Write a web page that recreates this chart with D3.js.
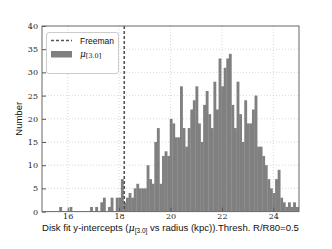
<!DOCTYPE html>
<html>
<head>
<meta charset="utf-8">
<script src="https://cdn.jsdelivr.net/npm/d3@7"></script>
<style>
  html, body { margin: 0; padding: 0; background: #fff; }
  svg { display: block; }
</style>
</head>
<body>
<svg id="chart"></svg>
<script>
// histogram of disk fit y-intercepts, bins of 0.1 starting at 15.67
const binStart = 15.67
const binWidth = 0.1
const counts = [
  1, 0, 0, 0, 1, 0, 0, 0, 0, 0,
  0, 0, 1, 0, 1, 0, 2, 3, 0, 1,
  3, 0, 3, 3, 7, 2, 3, 4, 3, 5,
  6, 5, 5, 5, 10, 7, 6, 15, 18, 6,
  12, 13, 12, 20, 19, 16, 16, 27, 18, 14,
  18, 22, 24, 27, 19, 15, 23, 26, 21, 18,
  28, 22, 33, 27, 31, 33, 34, 23, 18, 28,
  21, 15, 24, 19, 19, 22, 25, 14, 14, 12,
  10, 7, 5, 4, 7, 9, 3, 2, 1, 2,
  1, 2, 1, 1
]
const freeman = 18.2
const xTicks = [16, 18, 20, 22, 24]
const yTicks = [0, 5, 10, 15, 20, 25, 30, 35, 40]

const width = 332
const height = 249
const marginLeft = 42
const marginRight = 33
const marginTop = 26
const marginBottom = 37.4

const bins = counts.map((c, i) => ({x0: binStart + i * binWidth, x1: binStart + (i + 1) * binWidth, n: c}))

const x = d3.scaleLinear([15, 25], [marginLeft, width - marginRight])
const y = d3.scaleLinear([0, 40], [height - marginBottom, marginTop])

const svg = d3.select('#chart')
    .attr('width', width)
    .attr('height', height)
    .attr('viewBox', [0, 0, width, height])

svg.append('defs').append('clipPath').attr('id', 'plot')
  .append('rect')
    .attr('x', marginLeft).attr('y', marginTop)
    .attr('width', width - marginLeft - marginRight)
    .attr('height', height - marginTop - marginBottom)

// grid
const grid = svg.append('g').attr('stroke', '#c8c8c8').attr('stroke-width', 0.7).attr('stroke-dasharray', '1,2')
grid.selectAll('.gx').data(xTicks).join('line')
    .attr('x1', d => x(d)).attr('x2', d => x(d))
    .attr('y1', marginTop).attr('y2', height - marginBottom)
grid.selectAll('.gy').data(yTicks.slice(1, -1)).join('line')
    .attr('x1', marginLeft).attr('x2', width - marginRight)
    .attr('y1', d => y(d)).attr('y2', d => y(d))

// bars
svg.append('g')
    .attr('clip-path', 'url(#plot)')
    .attr('fill', '#808080')
  .selectAll('rect')
  .data(bins.filter(d => d.n > 0))
  .join('rect')
    .attr('x', d => x(d.x0))
    .attr('width', d => x(d.x1) - x(d.x0) + 0.3)
    .attr('y', d => y(d.n))
    .attr('height', d => y(0) - y(d.n))

// Freeman line
svg.append('line')
    .attr('x1', x(freeman)).attr('x2', x(freeman))
    .attr('y1', marginTop).attr('y2', height - marginBottom)
    .attr('stroke', '#555')
    .attr('stroke-width', 1.6)
    .attr('stroke-dasharray', '3,2')

// axes
const xAxis = d3.axisBottom(x).tickValues(xTicks).tickSize(-4).tickPadding(2)
const yAxis = d3.axisLeft(y).tickValues(yTicks).tickSize(-4).tickPadding(4)

svg.append('g')
    .attr('transform', `translate(0,${height - marginBottom})`)
    .call(xAxis)
    .call(g => g.select('.domain').remove())
    .call(g => g.selectAll('text').attr('font-family', 'DejaVu Serif').attr('font-size', 8).attr('fill', '#222'))
    .call(g => g.selectAll('.tick line').attr('stroke', '#555'))

svg.append('g')
    .attr('transform', `translate(${marginLeft},0)`)
    .call(yAxis)
    .call(g => g.select('.domain').remove())
    .call(g => g.selectAll('text').attr('font-family', 'DejaVu Serif').attr('font-size', 8).attr('fill', '#222'))
    .call(g => g.selectAll('.tick line').attr('stroke', '#555'))

// frame
svg.append('rect')
    .attr('x', marginLeft).attr('y', marginTop)
    .attr('width', width - marginLeft - marginRight)
    .attr('height', height - marginTop - marginBottom)
    .attr('fill', 'none')
    .attr('stroke', '#666')
    .attr('stroke-width', 1)

// labels
const xl = svg.append('text')
    .attr('x', (marginLeft + width - marginRight) / 2)
    .attr('y', 231)
    .attr('text-anchor', 'middle')
    .attr('font-family', 'Liberation Sans')
    .attr('font-size', 9)
    .attr('fill', '#111')
xl.append('tspan').text('Disk fit y-intercepts (')
xl.append('tspan').attr('font-style', 'italic').attr('font-family', 'DejaVu Serif').text('μ')
xl.append('tspan').attr('font-size', 6.5).attr('dy', 2).text('[3.0]')
xl.append('tspan').attr('dy', -2).text(' vs radius (kpc)).Thresh.  R/R80=0.5')
const w = xl.node().getComputedTextLength()
xl.attr('font-size', 9 * 258 / w)

svg.append('text')
    .attr('transform', `translate(22,${(marginTop + height - marginBottom) / 2}) rotate(-90)`)
    .attr('text-anchor', 'middle')
    .attr('font-family', 'Liberation Sans')
    .attr('font-size', 9.5)
    .attr('fill', '#111')
    .text('Number')

// legend
const lg = svg.append('g')
lg.append('rect')
    .attr('x', 46.5).attr('y', 32.5).attr('width', 72).attr('height', 41)
    .attr('rx', 2.5)
    .attr('fill', '#fff').attr('stroke', '#ccc')
lg.append('line')
    .attr('x1', 51).attr('x2', 72).attr('y1', 40.5).attr('y2', 40.5)
    .attr('stroke', '#555').attr('stroke-width', 1.6).attr('stroke-dasharray', '3,2')
lg.append('text')
    .attr('x', 80).attr('y', 43.5)
    .attr('font-family', 'Liberation Sans').attr('font-size', 8.5).attr('fill', '#111')
    .text('Freeman')
lg.append('rect')
    .attr('x', 51).attr('y', 51).attr('width', 21).attr('height', 6.5)
    .attr('fill', '#808080')
const lt = lg.append('text')
    .attr('x', 80).attr('y', 56.5)
    .attr('font-family', 'DejaVu Serif').attr('font-size', 9).attr('fill', '#111')
lt.append('tspan').attr('font-style', 'italic').text('μ')
lt.append('tspan').attr('font-size', 6.5).attr('dy', 1.5).text('[3.0]')
</script>
</body>
</html>
